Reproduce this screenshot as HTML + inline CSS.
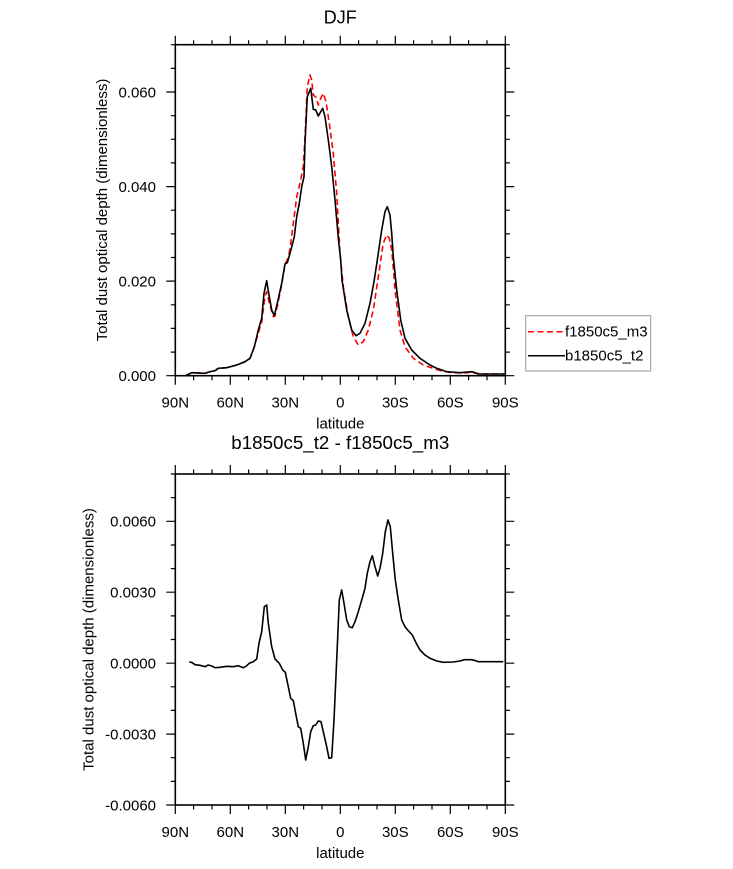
<!DOCTYPE html>
<html><head><meta charset="utf-8"><style>
html,body{margin:0;padding:0;background:#fff;}
svg{display:block;}
text{font-family:"Liberation Sans",Arial,sans-serif;fill:#000;}
</style></head><body>
<svg width="733" height="869" viewBox="0 0 733 869" xmlns="http://www.w3.org/2000/svg">
<defs>
<path id="xt" d="M175.3 0v9 M193.6 0v4.5 M212 0v4.5 M230.3 0v9 M248.6 0v4.5 M267 0v4.5 M285.3 0v9 M303.6 0v4.5 M322 0v4.5 M340.3 0v9 M358.6 0v4.5 M377 0v4.5 M395.3 0v9 M413.6 0v4.5 M432 0v4.5 M450.3 0v9 M468.6 0v4.5 M487 0v4.5 M505.3 0v9" stroke="#000" stroke-width="1.2" fill="none"/>
<path id="yt1" d="M0 375.7h-9 M0 352.1h-4.5 M0 328.4h-4.5 M0 304.8h-4.5 M0 281.1h-9 M0 257.5h-4.5 M0 233.9h-4.5 M0 210.2h-4.5 M0 186.6h-9 M0 162.9h-4.5 M0 139.3h-4.5 M0 115.7h-4.5 M0 92h-9 M0 68.4h-4.5 M0 44.7h-4.5" stroke="#000" stroke-width="1.2" fill="none"/>
<path id="yt2" d="M0 805h-9 M0 781.4h-4.5 M0 757.7h-4.5 M0 734.1h-9 M0 710.4h-4.5 M0 686.8h-4.5 M0 663.2h-9 M0 639.5h-4.5 M0 615.9h-4.5 M0 592.2h-9 M0 568.6h-4.5 M0 545h-4.5 M0 521.3h-9 M0 497.7h-4.5 M0 474h-4.5" stroke="#000" stroke-width="1.2" fill="none"/>
</defs>

<!-- ===== TOP PLOT ===== -->
<text x="340.3" y="23.3" font-size="18" text-anchor="middle">DJF</text>

<use href="#xt" transform="translate(0,375.7)"/>
<use href="#xt" transform="translate(0,44.7) scale(1,-1)"/>
<use href="#yt1" transform="translate(175.3,0)"/>
<use href="#yt1" transform="translate(505.3,0) scale(-1,1)"/>

<polyline fill="none" stroke="#ff0000" stroke-width="1.6" stroke-dasharray="6 3.5" stroke-linejoin="round" points="186,375.5 191.7,372.7 205,373.3 210,371.7 215,370.7 218.3,368.3 226.7,367.7 236.7,365 245,361.7 250,358.5 254,348 258.3,333 261.7,322 265,296.7 266.7,291.7 269,301.7 273.3,316.7 275,316 278,303 282,283 285,264 288.3,258 290.5,245 293.3,223.3 296.7,196.7 300,183.3 303.3,166.7 305,136.7 307.3,86.7 310,75 311.7,80 313.3,95 316,97.3 318.3,105 320.7,98.3 323.3,93.3 326,101.7 329.3,123.3 333.3,153.3 336.7,193.3 340,253 343.3,286.7 348.3,316.7 353.3,336.7 358.3,345 363.3,341.7 368.3,330 373.3,310 378.3,277 381,258 383.3,243 386.7,235 389.3,238.3 391.7,250 393.5,270 395,290 400,330 405,346.7 413.3,358.3 423.3,365 430,367.3 440,370.5 450,372.5 460,373 470,372.5 476,373 480,374 504.3,374"/>

<polyline fill="none" stroke="#000" stroke-width="1.6" stroke-linejoin="round" points="186,375.5 191.7,372.7 205,373.3 210,371.7 215,370.7 218.3,368.3 226.7,367.7 236.7,365 245,361.7 250,358.3 252,353 254.5,346 258.3,330 261.7,318.3 264,293.3 266.7,280.7 268.7,293.3 271.7,310 274.3,315.7 277.3,303.3 281.7,283.3 285,264 287.3,262.7 290,253.3 291.7,247 294.3,236.7 296.7,216.7 299.3,203.3 301.7,186.7 304,176.7 305,143.3 307.3,96.7 310.7,88.3 313.3,109.3 315.7,110 318.3,116 322.7,108.3 325,116.7 328.3,140 331.7,166.7 335,200 338.5,240 340.7,260 342,280 346.7,310 351.7,330 356,335.7 360,333.3 365,323.3 370,303.3 374,281.7 377.3,260 381.7,230 385,211.7 387.3,206.7 390,215 391.7,233.3 393.3,256.7 396.7,290 400.7,320 405,338.3 411.7,350 420,358.3 430,365 436.7,368.3 446.7,371.7 460,372.7 471.7,371.7 475,372.7 478.3,374 504.3,374"/>

<rect x="175.3" y="44.7" width="330" height="331" fill="none" stroke="#000" stroke-width="1.6"/>

<g font-size="15" text-anchor="end">
<text x="156" y="381.1">0.000</text>
<text x="156" y="286.5">0.020</text>
<text x="156" y="192">0.040</text>
<text x="156" y="97.4">0.060</text>
</g>
<g font-size="15" text-anchor="middle">
<text x="175.3" y="407.5">90N</text>
<text x="230.3" y="407.5">60N</text>
<text x="285.3" y="407.5">30N</text>
<text x="340.3" y="407.5">0</text>
<text x="395.3" y="407.5">30S</text>
<text x="450.3" y="407.5">60S</text>
<text x="505.3" y="407.5">90S</text>
<text x="340.3" y="428.5">latitude</text>
</g>
<text font-size="15" text-anchor="middle" transform="translate(107,210) rotate(-90)">Total dust optical depth (dimensionless)</text>

<!-- legend -->
<rect x="525.7" y="315.7" width="125" height="55.3" fill="#fff" stroke="#999" stroke-width="1"/>
<path d="M528 331.7H565" stroke="#ff0000" stroke-width="1.5" stroke-dasharray="6 3.5"/>
<path d="M528 355.7H565" stroke="#000" stroke-width="1.5"/>
<text x="565" y="336.5" font-size="15">f1850c5_m3</text>
<text x="565" y="360.5" font-size="15">b1850c5_t2</text>

<!-- ===== BOTTOM PLOT ===== -->
<text x="340.3" y="449" font-size="18" text-anchor="middle" textLength="218" lengthAdjust="spacingAndGlyphs">b1850c5_t2 - f1850c5_m3</text>

<use href="#xt" transform="translate(0,805)"/>
<use href="#xt" transform="translate(0,474) scale(1,-1)"/>
<use href="#yt2" transform="translate(175.3,0)"/>
<use href="#yt2" transform="translate(505.3,0) scale(-1,1)"/>

<polyline fill="none" stroke="#000" stroke-width="1.6" stroke-linejoin="round" points="189.3,661.7 192.3,662.7 195,664.7 200,665.3 205,666.7 208.3,665 211.7,666 215,667.7 220,667.3 226.7,666.3 233.3,666.7 238.3,665.7 243.3,667.7 246,666.3 249.3,663.3 253.3,661.7 256.7,659 259,643.3 261.7,631.7 264.3,606.7 266.7,605 268.3,623.3 271.7,646.7 275,659 279.3,663.3 282.7,670 285.3,672.3 288.3,686.7 290.7,698.3 293.3,700.7 296,715 298.3,726.7 300.7,728.3 303.3,743.3 305.7,760 308.3,746.7 310.7,731.7 313.3,725.7 315.7,725 318.3,721 321,721.7 323.3,731.7 326.7,746.7 329,758.3 331.7,757.7 334,720 336.7,660 339.3,600 341.7,590 344,603.3 346.7,620 349.3,626.7 352.3,627.7 355,621.7 358.3,611.7 361.7,600 365,588.3 367.3,573.3 370,561.7 372.3,555.7 375,566.7 377.7,576 380,568.3 382.7,553.3 385.3,531.7 388,520 390.3,526.7 392.7,553.3 395.3,580 398.3,600 401.7,620 405,626.7 408.3,630.7 412.3,635 416,642.7 420,650 425,655 430,658.3 436.7,661 443.3,662.3 453.3,662 460,661 464,659.7 471.7,659.7 474.3,660.3 478.3,661.7 503.3,661.7"/>

<rect x="175.3" y="474" width="330" height="331" fill="none" stroke="#000" stroke-width="1.6"/>

<g font-size="15" text-anchor="end">
<text x="156" y="810.4">-0.0060</text>
<text x="156" y="739.5">-0.0030</text>
<text x="156" y="668.6">0.0000</text>
<text x="156" y="597.6">0.0030</text>
<text x="156" y="526.7">0.0060</text>
</g>
<g font-size="15" text-anchor="middle">
<text x="175.3" y="836.8">90N</text>
<text x="230.3" y="836.8">60N</text>
<text x="285.3" y="836.8">30N</text>
<text x="340.3" y="836.8">0</text>
<text x="395.3" y="836.8">30S</text>
<text x="450.3" y="836.8">60S</text>
<text x="505.3" y="836.8">90S</text>
<text x="340.3" y="857.8">latitude</text>
</g>
<text font-size="15" text-anchor="middle" transform="translate(93.5,639.5) rotate(-90)">Total dust optical depth (dimensionless)</text>
</svg>
</body></html>
